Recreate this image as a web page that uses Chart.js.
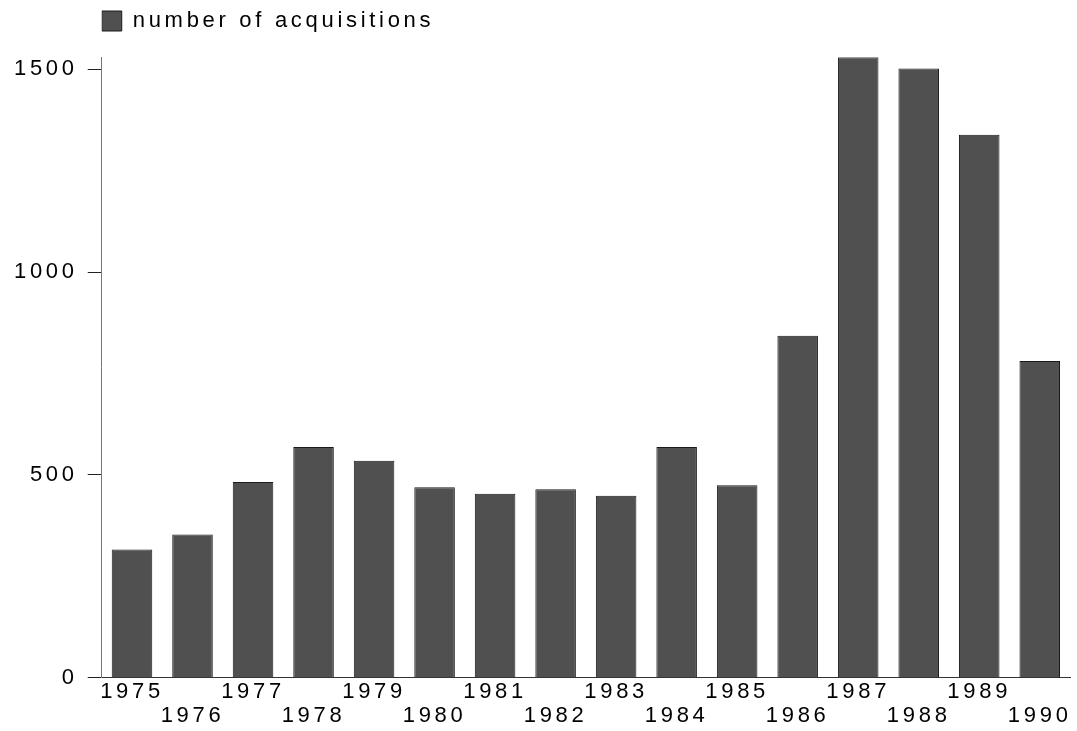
<!DOCTYPE html>
<html>
<head>
<meta charset="utf-8">
<script src="https://cdn.jsdelivr.net/npm/chart.js@4/dist/chart.umd.min.js"></script>
<style>
  html, body { margin: 0; padding: 0; background: #fff; }
  #wrap { width: 1077px; height: 731px; }
</style>
</head>
<body>
<div id="wrap"><canvas id="chart"></canvas></div>
<script>
const years = ["1975", "1976", "1977", "1978", "1979", "1980", "1981", "1982",
  "1983", "1984", "1985", "1986", "1987", "1988", "1989", "1990"];
const acquisitions = [316, 353, 483, 569, 535, 470, 454, 465, 449, 569, 475, 843, 1530, 1502, 1339, 781];
const yTicks = [0, 500, 1000, 1500];

// the reference text is letter-spaced
const spacing = {
  id: "spacing",
  beforeUpdate(chart) { chart.ctx.letterSpacing = "3.7px"; },
  beforeLayout(chart) { chart.ctx.letterSpacing = "3.7px"; },
  beforeDraw(chart) { chart.ctx.letterSpacing = "3.7px"; }
};

const ctx = document.getElementById("chart").getContext("2d");
const chart = new Chart(ctx, {
  type: "bar",
  data: {
    labels: years,
    datasets: [{
      label: "number of acquisitions",
      data: acquisitions,
      backgroundColor: "#505050",
      borderColor: "#1a1a1a",
      borderWidth: 1,
      barPercentage: 0.67,
      categoryPercentage: 1
    }]
  },
  options: {
    responsive: true,
    maintainAspectRatio: false,
    animation: false,
    layout: {
      padding: { top: 10, left: 4, right: 7, bottom: 1 }
    },
    plugins: {
      legend: {
        position: "top",
        align: "start",
        fullSize: false,
        labels: {
          boxWidth: 20,
          boxHeight: 20,
          padding: 0,
          color: "#000",
          font: { family: "'Liberation Sans', Arial, sans-serif", size: 22 }
        }
      },
      title: {
        display: true,
        text: "",
        weight: 500,
        font: { size: 1 },
        padding: { top: 0, bottom: 14 }
      },
      tooltip: { enabled: false }
    },
    scales: {
      x: {
        grid: { display: false, drawTicks: false },
        border: { display: true, color: "#333", width: 1 },
        ticks: {
          color: "#000",
          autoSkip: false,
          maxRotation: 0,
          padding: 3,
          font: { family: "'Liberation Sans', Arial, sans-serif", size: 22, lineHeight: 1.05 },
          callback: function (value, index) {
            const y = years[index];
            return index % 2 === 1 ? ["", y] : [y];
          }
        }
      },
      y: {
        min: 0,
        max: 1530,
        afterBuildTicks: function (axis) {
          axis.ticks = yTicks.map(v => ({ value: v }));
        },
        grid: {
          drawOnChartArea: false,
          drawTicks: true,
          tickLength: 14,
          color: "#222"
        },
        border: { display: true, color: "#777", width: 1 },
        ticks: {
          color: "#000",
          padding: 10,
          font: { family: "'Liberation Sans', Arial, sans-serif", size: 22 },
          callback: function (value) { return String(value); }
        }
      }
    }
  },
  plugins: [spacing]
});
</script>
</body>
</html>
